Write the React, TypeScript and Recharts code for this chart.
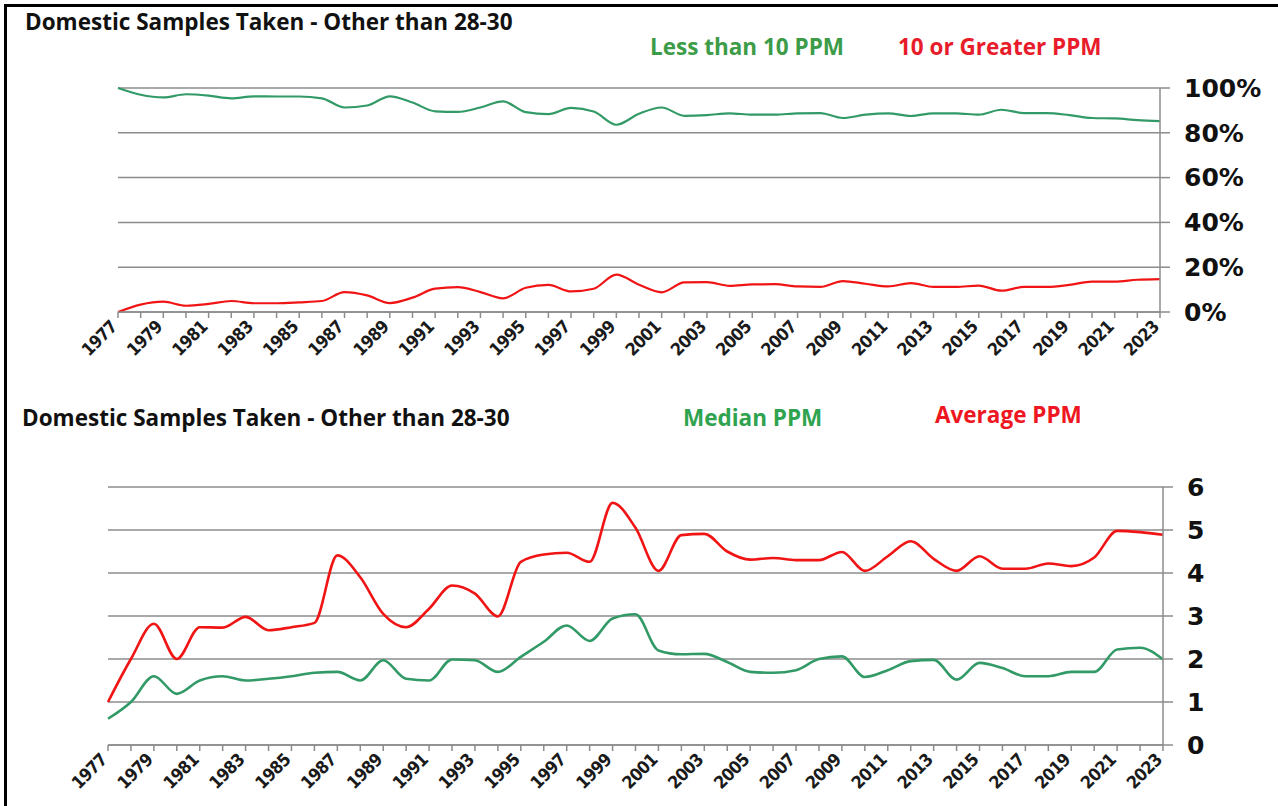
import React from 'react';
import { LineChart, Line, XAxis, YAxis, CartesianGrid } from 'recharts';

// sample years, one point per year
const years = [
  '1977', '1978', '1979', '1980', '1981', '1982', '1983', '1984', '1985', '1986',
  '1987', '1988', '1989', '1990', '1991', '1992', '1993', '1994', '1995', '1996',
  '1997', '1998', '1999', '2000', '2001', '2002', '2003', '2004', '2005', '2006',
  '2007', '2008', '2009', '2010', '2011', '2012', '2013', '2014', '2015', '2016',
  '2017', '2018', '2019', '2020', '2021', '2022', '2023',
];

// top chart: share of samples (%)
const lessThan10 = [
  100, 97, 95.8, 97.2, 96.6, 95.4, 96.3, 96.2, 96.2, 95.4,
  91.3, 92.2, 96.3, 93.5, 89.6, 89.3, 91.3, 94.0, 89.2, 88.3,
  91.1, 89.5, 83.6, 88.5, 91.3, 87.6, 87.9, 88.7, 88.1, 88.1,
  88.7, 88.8, 86.6, 88.1, 88.7, 87.5, 88.7, 88.7, 88.1, 90.3,
  88.8, 88.8, 87.9, 86.6, 86.4, 85.7, 85.2,
];
const tenOrGreater = [
  0, 3.3, 4.6, 2.8, 3.6, 4.9, 3.9, 3.9, 4.3, 4.9,
  8.9, 7.4, 4.0, 6.4, 10.4, 11.1, 8.9, 6.1, 10.8, 12.1,
  9.2, 10.4, 16.7, 12.2, 8.8, 13.2, 13.3, 11.7, 12.3, 12.4,
  11.4, 11.2, 13.8, 12.6, 11.4, 12.9, 11.2, 11.2, 11.8, 9.5,
  11.2, 11.2, 12.1, 13.6, 13.6, 14.4, 14.7,
];

// bottom chart: PPM
const medianPpm = [
  0.61, 1.0, 1.6, 1.19, 1.5, 1.6, 1.5, 1.54, 1.6, 1.68,
  1.7, 1.5, 1.97, 1.54, 1.5, 1.99, 1.97, 1.7, 2.05, 2.4,
  2.78, 2.42, 2.94, 3.04, 2.2, 2.11, 2.12, 1.93, 1.7, 1.68,
  1.74, 2.0, 2.06, 1.58, 1.74, 1.95, 1.98, 1.52, 1.91, 1.79,
  1.6, 1.6, 1.7, 1.7, 2.22, 2.26, 1.99,
];
const averagePpm = [
  1.0, 2.0, 2.82, 2.0, 2.74, 2.73, 2.98, 2.67, 2.74, 2.84,
  4.41, 3.9, 3.05, 2.74, 3.17, 3.71, 3.52, 2.99, 4.26, 4.43,
  4.47, 4.26, 5.63, 5.05, 4.05, 4.88, 4.91, 4.5, 4.31, 4.35,
  4.3, 4.3, 4.49, 4.05, 4.39, 4.74, 4.33, 4.05, 4.39, 4.1,
  4.1, 4.22, 4.16, 4.36, 4.98, 4.95, 4.89,
];

const pctTicks = [0, 20, 40, 60, 80, 100];
const ppmTicks = [0, 1, 2, 3, 4, 5, 6];

const shareData = years.map((year, i) => ({ year, low: lessThan10[i], high: tenOrGreater[i] }));
const ppmData = years.map((year, i) => ({ year, median: medianPpm[i], average: averagePpm[i] }));

const GREEN_LINE = '#329a66';
const RED_LINE = '#f01414';
const GRID = '#8c8c8c';

const headStyle: React.CSSProperties = {
  position: 'absolute',
  fontFamily: '"Open Sans", sans-serif',
  fontWeight: 700,
  fontSize: 22.5,
  lineHeight: '26px',
  whiteSpace: 'nowrap',
};

// every year gets a tick mark, every other year a label
const YearTick = (props: any) => {
  const { x, y, payload } = props;
  if (years.indexOf(payload.value) % 2 !== 0) return <g />;
  return (
    <text
      x={x}
      y={y}
      textAnchor="end"
      transform={`rotate(-45, ${x}, ${y})`}
      fontSize={17.5}
      fontWeight={700}
      fontFamily="'DejaVu Sans Condensed', 'DejaVu Sans', sans-serif"
      letterSpacing={-0.7}
      fill="#1a1a1a"
    >
      {payload.value}
    </text>
  );
};

const valueTick = { fill: '#111', fontSize: 25, fontWeight: 700, fontFamily: 'DejaVu Sans' };

export default function App() {
  return (
    <div style={{ position: 'absolute', left: 0, top: 0, width: 1278, height: 806, background: '#fff', overflow: 'hidden' }}>
      <div style={{ position: 'absolute', left: 4, top: 4, width: 1274, height: 3, background: '#000' }} />
      <div style={{ position: 'absolute', left: 4, top: 4, width: 3, height: 802, background: '#000' }} />

      <div style={{ ...headStyle, left: 25, top: 9, color: '#111' }}>Domestic Samples Taken - Other than 28-30</div>
      <div style={{ ...headStyle, left: 650, top: 34, color: '#3d9c48' }}>Less than 10 PPM</div>
      <div style={{ ...headStyle, left: 898, top: 34, color: '#e81c2a' }}>10 or Greater PPM</div>

      <div style={{ position: 'absolute', left: 0, top: 0 }}>
        <LineChart width={1278} height={370} data={shareData} margin={{ top: 88, right: 8, bottom: 0, left: 118 }}>
          <CartesianGrid vertical={false} stroke={GRID} strokeWidth={1.5} />
          <XAxis
            dataKey="year"
            interval={0}
            tick={<YearTick />}
            tickSize={6}
            tickMargin={10}
            height={58}
            stroke={GRID}
            strokeWidth={1.5}
          />
          <YAxis
            orientation="right"
            domain={[0, 100]}
            ticks={pctTicks}
            tickFormatter={(v: number) => `${v}%`}
            tick={valueTick}
            tickSize={10}
            tickMargin={14}
            width={110}
            stroke={GRID}
            strokeWidth={1.5}
          />
          <Line type="monotone" dataKey="low" stroke={GREEN_LINE} strokeWidth={2.2} dot={false} isAnimationActive={false} />
          <Line type="monotone" dataKey="high" stroke={RED_LINE} strokeWidth={2.2} dot={false} isAnimationActive={false} />
        </LineChart>
      </div>

      <div style={{ ...headStyle, left: 22, top: 405, color: '#111' }}>Domestic Samples Taken - Other than 28-30</div>
      <div style={{ ...headStyle, left: 683, top: 405, color: '#2fa34f' }}>Median PPM</div>
      <div style={{ ...headStyle, left: 935, top: 402, color: '#ee1620' }}>Average PPM</div>

      <div style={{ position: 'absolute', left: 0, top: 380 }}>
        <LineChart width={1278} height={426} data={ppmData} margin={{ top: 107, right: 5, bottom: 0, left: 108 }}>
          <CartesianGrid vertical={false} stroke={GRID} strokeWidth={1.5} />
          <XAxis
            dataKey="year"
            interval={0}
            tick={<YearTick />}
            tickSize={6}
            tickMargin={10}
            height={61}
            stroke={GRID}
            strokeWidth={1.5}
          />
          <YAxis
            orientation="right"
            domain={[0, 6]}
            ticks={ppmTicks}
            tick={valueTick}
            tickSize={10}
            tickMargin={14}
            width={110}
            stroke={GRID}
            strokeWidth={1.5}
          />
          <Line type="monotone" dataKey="median" stroke={GREEN_LINE} strokeWidth={2.6} dot={false} isAnimationActive={false} />
          <Line type="monotone" dataKey="average" stroke={RED_LINE} strokeWidth={2.6} dot={false} isAnimationActive={false} />
        </LineChart>
      </div>
    </div>
  );
}
